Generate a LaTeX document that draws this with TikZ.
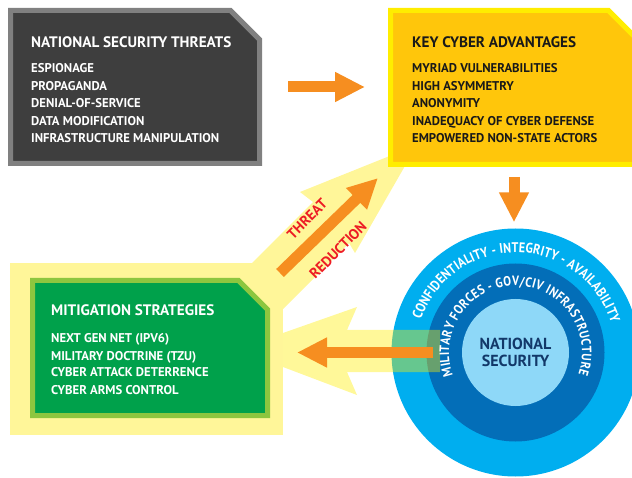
\documentclass[tikz,border=0pt]{standalone}
\usepackage{fontspec}
\setmainfont{PT Sans}
\newfontfamily\ringfont[FakeStretch=0.86]{PT Sans}
\usetikzlibrary{arrows.meta, calc, shapes, positioning, decorations.text}

\definecolor{threatfill}{RGB}{62,62,62}
\definecolor{threatedge}{RGB}{128,128,128}
\definecolor{advfill}{RGB}{255,198,11}
\definecolor{advedge}{RGB}{255,237,0}
\definecolor{mitfill}{RGB}{0,161,75}
\definecolor{mitedge}{RGB}{141,198,63}
\definecolor{paleyellow}{RGB}{255,246,153}
\definecolor{arroworange}{RGB}{246,142,32}
\definecolor{reducered}{RGB}{237,28,36}
\definecolor{ringcyan}{RGB}{0,174,239}
\definecolor{ringblue}{RGB}{3,110,184}
\definecolor{corefill}{RGB}{142,216,248}
\definecolor{navy}{RGB}{18,56,105}

% box outline with the top right corner cut off: node, fill, edge
\newcommand{\cutbox}[3]{%
  \filldraw[fill=#2, draw=#3, line width=5pt]
    (#1.south west) -- (#1.north west) -- ([xshift=-29pt]#1.north east)
    -- ([yshift=-29pt]#1.north east) -- (#1.south east) -- cycle;}

\begin{document}
\begin{tikzpicture}[x=1pt, y=1pt,
    box/.style={rectangle, inner sep=0pt, outer sep=0pt},
    title/.style={anchor=base west, inner sep=0pt, font=\bfseries\fontsize{15.2}{15.2}\selectfont},
    item/.style={anchor=base west, inner sep=0pt, font=\bfseries\fontsize{12.7}{12.7}\selectfont},
    bigarrow/.style={draw=arroworange, line width=11pt, -{Triangle[length=30pt, width=28pt]}},
    reduce/.style={rotate=45, inner sep=0pt, text=reducered, font=\bfseries\fontsize{14.5}{14.5}\selectfont},
    disc/.style={circle, inner sep=0pt}]
	\useasboundingbox (0,0) rectangle (632,477);
	
	% Pale backing and threat reduction beam
	\fill[paleyellow] (10,42) rectangle (283,214);
	\fill[paleyellow] (283,168) -- (349,234) -- (355,224) -- (417,332) -- (300,285) -- (313,275) -- (252,214) -- cycle;
	
	% Rings
	\coordinate (hub) at (515.5,124.5);
	\node[disc, fill=ringcyan, minimum size=248pt] (ring) at (hub) {};
	\node[disc, fill=ringblue, minimum size=178pt] (assets) at (hub) {};
	\node[disc, fill=corefill, minimum size=107pt, align=center, text=navy,
	  font=\bfseries\fontsize{16}{16.5}\selectfont] (core) at (hub) {NATIONAL\\SECURITY};
	
	% Band back to the strategies
	\fill[advedge, fill opacity=0.4] (283,144) -- (357,170) -- (347,147) -- (440,147) -- (440,105) -- (347,105) -- (357,82) -- (283,110) -- cycle;
	
	% Ring labels
	\path[decorate, decoration={text along path, text align=fit to path, text color=white,
	  text={|\ringfont\bfseries\fontsize{14}{14}\selectfont|CONFIDENTIALITY - INTEGRITY - AVAILABILITY}}]
	  (hub) ++(161:100) arc[start angle=161, end angle=17, radius=100];
	\path[decorate, decoration={text along path, text align=fit to path, text color=white,
	  text={|\ringfont\bfseries\fontsize{13.5}{13.5}\selectfont|MILITARY FORCES - GOV/CIV INFRASTRUCTURE}}]
	  (hub) ++(200:66.5) arc[start angle=200, end angle=-19, radius=66.5];
	
	% Boxes
	\node[box, minimum width=249pt, minimum height=153pt] (threats) at (135,390) {};
	\node[box, minimum width=247pt, minimum height=154pt] (advantages) at (514,389.5) {};
	\node[box, minimum width=235pt, minimum height=135pt] (mitigation) at (150,129) {};
	\cutbox{threats}{threatfill}{threatedge}
	\cutbox{advantages}{advfill}{advedge}
	\cutbox{mitigation}{mitfill}{mitedge}
	
	% Threats
	\node[title, white] (threats-title) at (31,429) {NATIONAL SECURITY THREATS};
	\foreach \t [count=\i] in {ESPIONAGE, PROPAGANDA, DENIAL-OF-SERVICE, DATA MODIFICATION, INFRASTRUCTURE MANIPULATION}
	  \node[item, white] (threat-\i) at (31,{404-17.5*(\i-1)}) {\t};
	
	% Advantages
	\node[title, black!90] (advantages-title) at (412,429) {KEY CYBER ADVANTAGES};
	\foreach \t [count=\i] in {MYRIAD VULNERABILITIES, HIGH ASYMMETRY, ANONYMITY, INADEQUACY OF CYBER DEFENSE, EMPOWERED NON-STATE ACTORS}
	  \node[item, black!90] (advantage-\i) at (412,{404-17.5*(\i-1)}) {\t};
	
	% Strategies
	\node[title, white] (mitigation-title) at (51,161) {MITIGATION STRATEGIES};
	\foreach \t [count=\i] in {NEXT GEN NET (IPV6), MILITARY DOCTRINE (TZU), CYBER ATTACK DETERRENCE, CYBER ARMS CONTROL}
	  \node[item, white] (strategy-\i) at (51,{134-17*(\i-1)}) {\t};
	
	% Flow arrows
	\coordinate (reduce-tail) at (280,204);
	\coordinate (reduce-head) at (378,299);
	\draw[bigarrow, shorten <=28.5pt, shorten >=25.5pt] (threats.east) -- (threats.east -| advantages.west);
	\draw[bigarrow, shorten <=12.5pt, shorten >=6pt] (advantages.south) -- (advantages.south |- ring.north);
	\draw[bigarrow, shorten <=29pt, shorten >=29.5pt] (core.west) -- (core.west -| mitigation.east);
	\draw[bigarrow] (reduce-tail) -- (reduce-head);
	
	\node[reduce] (threat-label) at (307,258) {THREAT};
	\node[reduce] (reduction-label) at (338,227) {REDUCTION};
\end{tikzpicture}
\end{document}
